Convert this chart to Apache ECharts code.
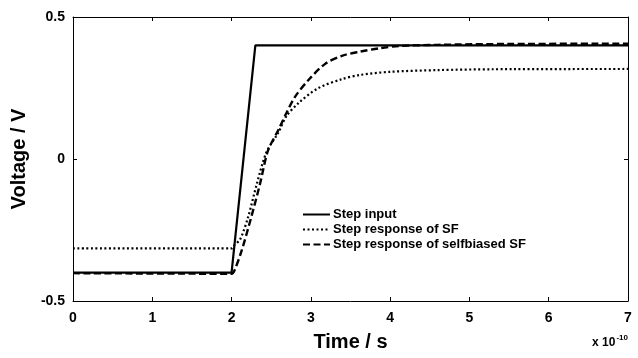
<!DOCTYPE html>
<html>
<head>
<meta charset="utf-8">
<script src="https://cdn.jsdelivr.net/npm/echarts@6/dist/echarts.min.js"></script>
<style>
html,body{margin:0;padding:0;background:#fff;}
#c{width:638px;height:358px;}
</style>
</head>
<body>
<div id="c"></div>
<script>
// x in units of 1e-10 s, y in V
const seriesNames = ['Step input', 'Step response of SF', 'Step response of selfbiased SF'];
const stepInput = [[0,-0.4],[2.0,-0.4],[2.3,0.4],[7,0.4]];
const sfResponse = [[0,-0.315],[2.0,-0.315],[2.04,-0.302],[2.11,-0.282],[2.21,-0.203],[2.32,-0.086],[2.44,0.024],[2.59,0.093],[2.69,0.150],[2.84,0.196],[3.09,0.249],[3.39,0.281],[3.62,0.296],[4.0,0.307],[4.6,0.313],[5.3,0.316],[7,0.317]];
const sbResponse = [[0,-0.402],[2.0,-0.404],[2.04,-0.39],[2.13,-0.32],[2.25,-0.203],[2.36,-0.086],[2.46,0.03],[2.59,0.102],[2.69,0.161],[2.80,0.219],[2.97,0.278],[3.18,0.335],[3.40,0.364],[3.62,0.378],[3.87,0.39],[4.12,0.398],[4.6,0.402],[5.5,0.405],[7,0.406]];
const xTicks = {min:0, max:7, interval:1};
const yTicks = {min:-0.5, max:0.5, interval:0.5};
const xName = 'Time / s';
const yName = 'Voltage / V';
const xExponent = '-10';

const font = '"Liberation Sans", Arial, Helvetica, sans-serif';
const chart = echarts.init(document.getElementById('c'));
const axisCommon = {
  axisLine:{show:true, onZero:false, lineStyle:{color:'#000', width:1}},
  axisTick:{show:true, inside:true, length:4, lineStyle:{color:'#000', width:1}},
  splitLine:{show:false}
};
function yLabel(v){ if (Math.abs(v) < 1e-9) return '0'; return String(v); }
chart.setOption({
  animation:false,
  backgroundColor:'#fff',
  textStyle:{fontFamily:font},
  grid:{left:73, right:10, top:17, bottom:57, containLabel:false},
  legend:{
    orient:'vertical', left:302, top:208, padding:0,
    itemWidth:27, itemHeight:12, itemGap:2,
    data:seriesNames,
    itemStyle:{opacity:0},
    textStyle:{fontFamily:font, fontWeight:'bold', fontSize:13, color:'#000', padding:[0,0,0,-2]}
  },
  xAxis:[
    Object.assign({type:'value', position:'bottom', min:xTicks.min, max:xTicks.max, interval:xTicks.interval,
      name:xName, nameLocation:'middle', nameGap:31,
      nameTextStyle:{fontFamily:font, fontWeight:'bold', fontSize:20, color:'#000'},
      axisLabel:{show:true, margin:10, fontFamily:font, fontWeight:'bold', fontSize:14, color:'#000'}}, axisCommon),
    Object.assign({type:'value', position:'top', min:xTicks.min, max:xTicks.max, interval:xTicks.interval,
      axisLabel:{show:false}}, axisCommon)
  ],
  yAxis:[
    Object.assign({type:'value', position:'left', min:yTicks.min, max:yTicks.max, interval:yTicks.interval,
      name:yName, nameLocation:'middle', nameGap:38,
      nameTextStyle:{fontFamily:font, fontWeight:'bold', fontSize:20, color:'#000'},
      axisLabel:{show:true, margin:8, fontFamily:font, fontWeight:'bold', fontSize:14, color:'#000', formatter:yLabel}}, axisCommon),
    Object.assign({type:'value', position:'right', min:yTicks.min, max:yTicks.max, interval:yTicks.interval,
      axisLabel:{show:false}}, axisCommon)
  ],
  graphic:[{
    type:'text', right:10, top:334,
    style:{
      text:'x 10{sup|' + xExponent + '}',
      fontFamily:font, fontWeight:'bold', fontSize:12, fill:'#000',
      rich:{sup:{fontFamily:font, fontWeight:'bold', fontSize:8, verticalAlign:'top', padding:[0,0,9,1]}}
    }
  }],
  series:[
    {name:seriesNames[0], type:'line', data:stepInput, symbol:'none', showSymbol:false, z:3,
      lineStyle:{color:'#000', width:2.2, type:'solid'}, itemStyle:{color:'#000'}},
    {name:seriesNames[1], type:'line', data:sfResponse, symbol:'none', showSymbol:false, smooth:0.3, z:2,
      lineStyle:{color:'#000', width:2.2, type:[2,2.5]}, itemStyle:{color:'#000'}},
    {name:seriesNames[2], type:'line', data:sbResponse, symbol:'none', showSymbol:false, smooth:0.3, z:2,
      lineStyle:{color:'#000', width:2.4, type:[7,3.5]}, itemStyle:{color:'#000'}}
  ]
});
</script>
</body>
</html>
